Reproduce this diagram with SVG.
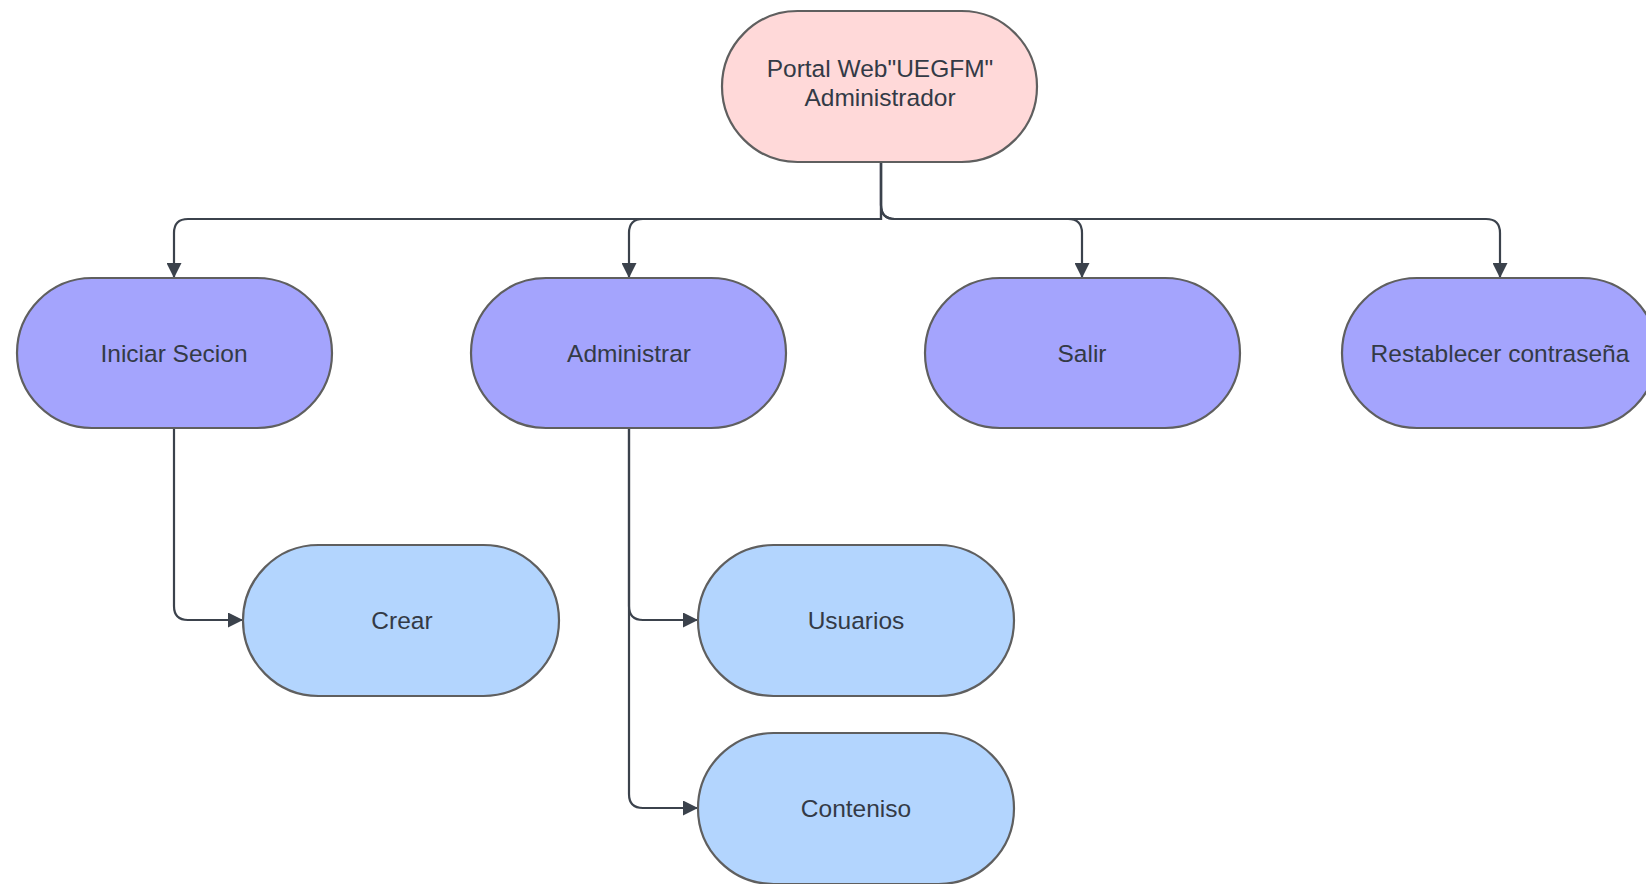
<svg xmlns="http://www.w3.org/2000/svg" width="1646" height="884" viewBox="0 0 1646 884">
<style>
.n rect{stroke:#5f5f5f;stroke-width:2.2}
.root rect{fill:#ffd9d9}
.l1 rect{fill:#a4a4fd}
.l2 rect{fill:#b3d5fe}
text{font-family:"Liberation Sans",Arial,sans-serif;font-size:24.5px;fill:#333a46;text-anchor:middle;dominant-baseline:central}
#edges path{fill:none;stroke:#3b424c;stroke-width:2.2}
</style>
<defs>
<marker id="ah" viewBox="0 0 10 10" refX="10" refY="5" markerWidth="15" markerHeight="15" markerUnits="userSpaceOnUse" orient="auto">
<path d="M0,0 L10,5 L0,10 Z" fill="#3b424c"/>
</marker>
</defs>
<rect width="1646" height="884" fill="#ffffff"/>
<g id="edges">
<path d="M881,162 V205 Q881,219 895,219 H1486 Q1500,219 1500,233 V278" marker-end="url(#ah)"/>
<path d="M881,162 V205 Q881,219 895,219 H1068 Q1082,219 1082,233 V278" marker-end="url(#ah)"/>
<path d="M881,162 V219 H643 Q629,219 629,233 V278" marker-end="url(#ah)"/>
<path d="M881,162 V219 H188 Q174,219 174,233 V278" marker-end="url(#ah)"/>
<path d="M174,428 V606 Q174,620 188,620 H243" marker-end="url(#ah)"/>
<path d="M629,428 V606 Q629,620 643,620 H698" marker-end="url(#ah)"/>
<path d="M629,428 V794 Q629,808 643,808 H698" marker-end="url(#ah)"/>
</g>
<g id="root" class="n root">
<rect x="722" y="11" width="315" height="151" rx="75.5" ry="75.5"/>
<text x="880" y="68">Portal Web"UEGFM"</text>
<text x="880" y="97">Administrador</text>
</g>
<g id="iniciar" class="n l1">
<rect x="17" y="278" width="315" height="150" rx="75" ry="75"/>
<text x="174" y="353">Iniciar Secion</text>
</g>
<g id="administrar" class="n l1">
<rect x="471" y="278" width="315" height="150" rx="75" ry="75"/>
<text x="629" y="353">Administrar</text>
</g>
<g id="salir" class="n l1">
<rect x="925" y="278" width="315" height="150" rx="75" ry="75"/>
<text x="1082" y="353">Salir</text>
</g>
<g id="restablecer" class="n l1">
<rect x="1342" y="278" width="315" height="150" rx="75" ry="75"/>
<text x="1500" y="353">Restablecer contraseña</text>
</g>
<g id="crear" class="n l2">
<rect x="243" y="545" width="316" height="151" rx="75.5" ry="75.5"/>
<text x="402" y="620">Crear</text>
</g>
<g id="usuarios" class="n l2">
<rect x="698" y="545" width="316" height="151" rx="75.5" ry="75.5"/>
<text x="856" y="620">Usuarios</text>
</g>
<g id="conteniso" class="n l2">
<rect x="698" y="733" width="316" height="151" rx="75.5" ry="75.5"/>
<text x="856" y="808">Conteniso</text>
</g>
</svg>
